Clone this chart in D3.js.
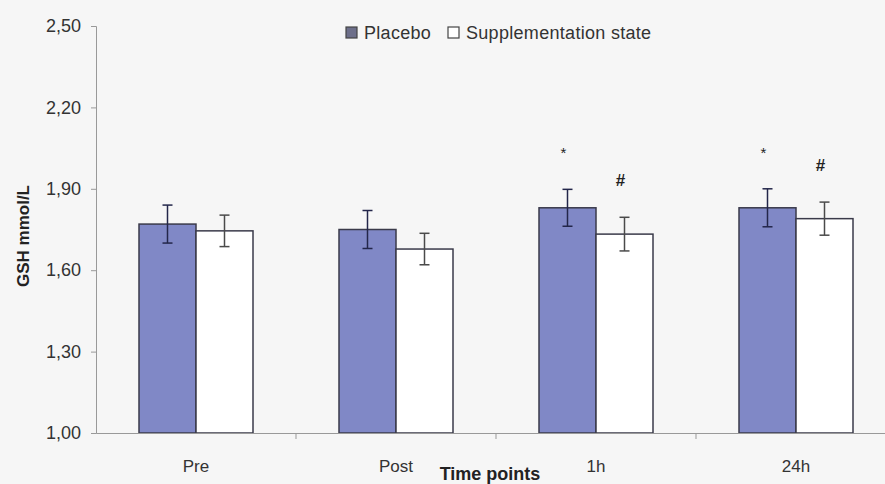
<!DOCTYPE html>
<html>
<head>
<meta charset="utf-8">
<script src="https://cdn.jsdelivr.net/npm/d3@7"></script>
<style>
  html, body { margin: 0; padding: 0; background: #f6f6f6; }
  svg { display: block; }
  text { font-family: Arial, "Liberation Sans", sans-serif; }
</style>
</head>
<body>
<div id="chart"></div>
<script>
// data
const categories = ["Pre", "Post", "1h", "24h"];
const seriesNames = ["Placebo", "Supplementation state"];
const placeboMean = [1.77, 1.75, 1.83, 1.83];
const placeboSE = [0.07, 0.07, 0.068, 0.07];
const suppMean = [1.745, 1.678, 1.733, 1.79];
const suppSE = [0.058, 0.058, 0.062, 0.061];
const yTicks = [1.0, 1.3, 1.6, 1.9, 2.2, 2.5];
// significance marks: [category, series index, symbol]
const marks = [["1h", 0, "*"], ["1h", 1, "#"], ["24h", 0, "*"], ["24h", 1, "#"]];

const width = 885, height = 484;
const colors = ["#8088c6", "#ffffff"];

const svg = d3.select("#chart").append("svg")
    .attr("width", width)
    .attr("height", height);

const x0 = d3.scaleBand()
    .domain(categories)
    .range([96, 896])
    .paddingInner(0.43)
    .paddingOuter(0.215);

const x1 = d3.scaleBand()
    .domain([0, 1])
    .range([0, x0.bandwidth()]);

const y = d3.scaleLinear()
    .domain([1.0, 2.5])
    .range([433, 26]);

const rows = [];
categories.forEach((c, i) => {
    rows.push({cat: c, s: 0, mean: placeboMean[i], se: placeboSE[i]});
    rows.push({cat: c, s: 1, mean: suppMean[i], se: suppSE[i]});
});

// bars
svg.append("g").selectAll("rect")
    .data(rows)
    .join("rect")
    .attr("x", d => x0(d.cat) + x1(d.s))
    .attr("y", d => y(d.mean))
    .attr("width", x1.bandwidth())
    .attr("height", d => y(1.0) - y(d.mean))
    .attr("fill", d => colors[d.s])
    .attr("stroke", "#3a3a4a")
    .attr("stroke-width", 1.5);

// error bars
const eb = svg.append("g").selectAll("g")
    .data(rows)
    .join("g")
    .attr("stroke", d => d.s === 0 ? "#23264a" : "#4a4a4a")
    .attr("stroke-width", 1.5);

eb.append("line")
    .attr("x1", d => x0(d.cat) + x1(d.s) + x1.bandwidth() / 2)
    .attr("x2", d => x0(d.cat) + x1(d.s) + x1.bandwidth() / 2)
    .attr("y1", d => y(d.mean + d.se))
    .attr("y2", d => y(d.mean - d.se));
eb.selectAll(".cap")
    .data(d => [d.mean + d.se, d.mean - d.se].map(v => ({v, d})))
    .join("line")
    .attr("x1", e => x0(e.d.cat) + x1(e.d.s) + x1.bandwidth() / 2 - 5)
    .attr("x2", e => x0(e.d.cat) + x1(e.d.s) + x1.bandwidth() / 2 + 5)
    .attr("y1", e => y(e.v))
    .attr("y2", e => y(e.v));

// axes
const yAxis = svg.append("g")
    .attr("transform", "translate(96,0)")
    .call(d3.axisLeft(y).tickValues(yTicks).tickSize(5).tickPadding(10)
        .tickFormat(d => d3.format(".2f")(d).replace(".", ",")));
yAxis.select(".domain").attr("stroke", "#999");
yAxis.selectAll(".tick line").attr("stroke", "#999");
yAxis.selectAll("text").attr("font-size", 18).attr("fill", "#333");

const xAxis = svg.append("g")
    .attr("transform", "translate(0,433)")
    .call(d3.axisBottom(x0).tickSize(0).tickPadding(27));
xAxis.select(".domain").attr("stroke", "#999");
xAxis.selectAll("text").attr("font-size", 17).attr("fill", "#333");

// category separator ticks
svg.append("g").selectAll("line")
    .data(categories.slice(1))
    .join("line")
    .attr("x1", d => x0(d) - x0.step() * x0.paddingInner() / 2)
    .attr("x2", d => x0(d) - x0.step() * x0.paddingInner() / 2)
    .attr("y1", 433).attr("y2", 439)
    .attr("stroke", "#999");

// significance marks
svg.append("g").selectAll("text")
    .data(marks)
    .join("text")
    .attr("x", m => x0(m[0]) + x1(m[1]) + x1.bandwidth() / 2 - 4)
    .attr("y", m => {
        const i = categories.indexOf(m[0]);
        const top = m[1] === 0 ? placeboMean[i] + placeboSE[i] : suppMean[i] + suppSE[i];
        return y(top) - 31;
    })
    .attr("text-anchor", "middle")
    .attr("font-size", m => m[2] === "*" ? 15 : 17)
    .attr("font-weight", m => m[2] === "*" ? "normal" : "bold")
    .attr("fill", "#222")
    .text(m => m[2]);

// axis titles
svg.append("text")
    .attr("transform", "translate(29,236) rotate(-90)")
    .attr("text-anchor", "middle")
    .attr("font-size", 17)
    .attr("font-weight", "bold")
    .attr("fill", "#222")
    .text("GSH mmol/L");

svg.append("text")
    .attr("x", 490)
    .attr("y", 480)
    .attr("text-anchor", "middle")
    .attr("font-size", 18)
    .attr("font-weight", "bold")
    .attr("fill", "#222")
    .text("Time points");

// legend
const legend = svg.append("g").attr("transform", "translate(346,27)");
const legX = [0, 102];
const lg = legend.selectAll("g")
    .data(seriesNames)
    .join("g")
    .attr("transform", (d, i) => `translate(${legX[i]},0)`);
lg.append("rect")
    .attr("width", 11).attr("height", 11)
    .attr("fill", (d, i) => i === 0 ? "#6d6f8a" : "#fff")
    .attr("stroke", "#444")
    .attr("stroke-width", 1.2);
lg.append("text")
    .attr("x", 18)
    .attr("y", 12)
    .attr("font-size", 18)
    .attr("letter-spacing", 0.3)
    .attr("fill", "#333")
    .text(d => d);
</script>
</body>
</html>
